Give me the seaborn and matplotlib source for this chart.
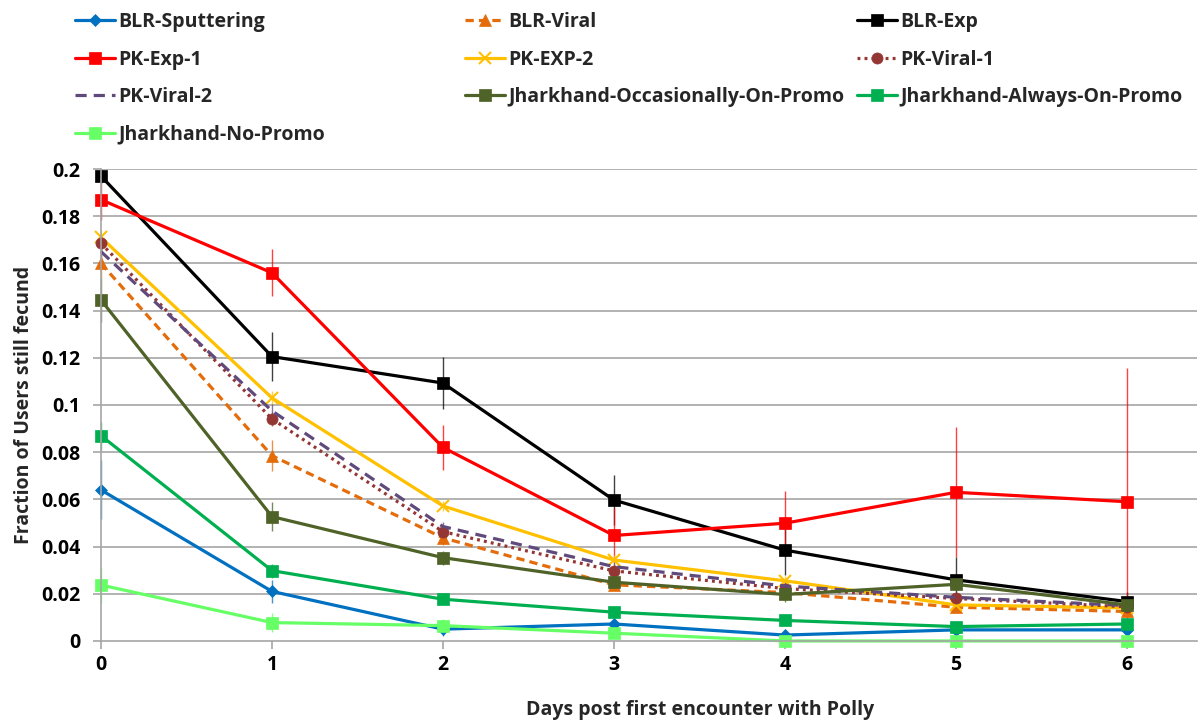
import matplotlib
matplotlib.use("Agg")
import matplotlib.pyplot as plt
import seaborn as sns
import numpy as np

# Days since each user's first encounter with Polly
days = [0, 1, 2, 3, 4, 5, 6]

series_names = [
    "BLR-Sputtering", "BLR-Viral", "BLR-Exp",
    "PK-Exp-1", "PK-EXP-2", "PK-Viral-1",
    "PK-Viral-2", "Jharkhand-Occasionally-On-Promo", "Jharkhand-Always-On-Promo",
    "Jharkhand-No-Promo",
]

# Fraction of users still fecund, per day
blr_sputtering = [0.064, 0.021, 0.005, 0.0072, 0.0025, 0.0047, 0.0047]
blr_viral = [0.160, 0.0785, 0.0437, 0.0238, 0.0205, 0.0143, 0.0125]
blr_exp = [0.197, 0.1205, 0.1093, 0.0597, 0.0385, 0.0259, 0.0167]
pk_exp_1 = [0.187, 0.156, 0.082, 0.0447, 0.0499, 0.063, 0.059]
pk_exp_2 = [0.171, 0.103, 0.0572, 0.0343, 0.0255, 0.0153, 0.0140]
pk_viral_1 = [0.1685, 0.0941, 0.0463, 0.0297, 0.0222, 0.0180, 0.0145]
pk_viral_2 = [0.165, 0.0975, 0.0485, 0.0315, 0.0233, 0.0185, 0.0150]
jh_occasional = [0.1445, 0.0527, 0.0353, 0.0249, 0.0197, 0.0240, 0.0153]
jh_always = [0.087, 0.0298, 0.0177, 0.0122, 0.0087, 0.0061, 0.0072]
jh_no_promo = [0.0237, 0.0078, 0.0065, 0.0033, 0.0, 0.0, 0.0]

# Standard-error half widths
err_blr_sputtering = [0.0125, 0.005, 0.003, 0.002, 0.002, 0.002, 0.002]
err_blr_viral = [0.006, 0.0065, 0.003, 0.002, 0.002, 0.002, 0.002]
err_blr_exp = [0.003, 0.0105, 0.011, 0.0105, 0.0105, 0.0096, 0.004]
err_pk_exp_1 = [0.0085, 0.010, 0.0095, 0.0115, 0.0138, 0.0275, 0.0565]
err_pk_exp_2 = [0.003, 0.003, 0.002, 0.002, 0.002, 0.002, 0.002]
err_pk_viral_1 = [0.003, 0.003, 0.002, 0.002, 0.002, 0.002, 0.002]
err_pk_viral_2 = [0.003, 0.003, 0.002, 0.002, 0.002, 0.002, 0.002]
err_jh_occasional = [0.0095, 0.006, 0.003, 0.003, 0.003, 0.003, 0.003]
err_jh_always = [0.006, 0.003, 0.002, 0.002, 0.002, 0.002, 0.002]
err_jh_no_promo = [0.0075, 0.004, 0.003, 0.002, 0.0, 0.0, 0.0]

y_ticks = [0, 0.02, 0.04, 0.06, 0.08, 0.1, 0.12, 0.14, 0.16, 0.18, 0.2]
y_tick_labels = ["0", "0.02", "0.04", "0.06", "0.08", "0.1", "0.12", "0.14", "0.16", "0.18", "0.2"]

values = [blr_sputtering, blr_viral, blr_exp, pk_exp_1, pk_exp_2, pk_viral_1,
          pk_viral_2, jh_occasional, jh_always, jh_no_promo]
errors = [err_blr_sputtering, err_blr_viral, err_blr_exp, err_pk_exp_1, err_pk_exp_2,
          err_pk_viral_1, err_pk_viral_2, err_jh_occasional, err_jh_always, err_jh_no_promo]

colors = ["#0070C0", "#E46C0A", "#000000", "#FF0000", "#FFC000", "#943634",
          "#604A7B", "#4F6228", "#00B050", "#66FF66"]
markers = ["D", "^", "s", "s", "x", "o", None, "s", "s", "s"]
marker_sizes = [6, 8, 9, 9, 9, 8, 0, 9, 9, 9]
dash_styles = [None, (2.6, 1.6), None, None, None, (0.9, 1.3), (3.5, 2.2), None, None, None]

sns.set_theme(style="white")
font_list = ["Open Sans", "DejaVu Sans"]
plt.rcParams["font.family"] = font_list
plt.rcParams["font.weight"] = "bold"
FS = 14

fig = plt.figure(figsize=(11.98, 7.21), dpi=100)
ax = fig.add_axes([0.0843, 0.111, 0.9992 - 0.0843, 0.7656 - 0.111])

grid_color = "#A6A6A6"
for y in y_ticks[1:]:
    ax.axhline(y, color=grid_color, lw=1.2, zorder=0)

handles = {}
for name, vals, errs, col, m, ms, dash in zip(series_names, values, errors, colors,
                                              markers, marker_sizes, dash_styles):
    ax.errorbar(days, vals, yerr=errs, fmt="none", ecolor=col, elinewidth=1.0,
                alpha=0.75, zorder=1.5, clip_on=False)
    n_before = len(ax.lines)
    sns.lineplot(x=days, y=vals, color=col, marker=m if m else None,
                 markersize=ms, lw=2.3, ax=ax, label=name, legend=False,
                 markeredgewidth=1.5 if m == "x" else 0.5, markeredgecolor=col,
                 zorder=2)
    line = ax.lines[n_before]
    if dash is not None:
        line.set_linestyle((0, dash))
    line.set_clip_on(False)
    handles[name] = line

ax.set_xlim(0, 6.41)
ax.set_ylim(0, 0.2)
ax.set_xticks(days)
ax.set_xticklabels([str(d) for d in days])
ax.set_yticks(y_ticks)
ax.set_yticklabels(y_tick_labels)

for side in ["top", "right"]:
    ax.spines[side].set_visible(False)
for side in ["left", "bottom"]:
    ax.spines[side].set_color(grid_color)
    ax.spines[side].set_linewidth(1.2)

ax.tick_params(axis="both", which="major", direction="out", length=6, width=1.2,
               color=grid_color, labelsize=FS, labelcolor="black")
ax.tick_params(axis="y", pad=9, left=True)
ax.tick_params(axis="x", pad=4, bottom=True)
for lab in ax.get_xticklabels() + ax.get_yticklabels():
    lab.set_fontweight("bold")

ax.set_xlabel("Days post first encounter with Polly", fontsize=FS, fontweight="bold")
ax.xaxis.set_label_coords(0.5465, -0.125, transform=ax.transAxes)
ax.set_ylabel("Fraction of Users still fecund", fontsize=FS, fontweight="bold", labelpad=5)

# Legend laid out as three fixed-width columns
columns = [
    ["BLR-Sputtering", "PK-Exp-1", "PK-Viral-2", "Jharkhand-No-Promo"],
    ["BLR-Viral", "PK-EXP-2", "Jharkhand-Occasionally-On-Promo"],
    ["BLR-Exp", "PK-Viral-1", "Jharkhand-Always-On-Promo"],
]
col_x = [75 / 1198, 465 / 1198, 857 / 1198]
for cx, names in zip(col_x, columns):
    fig.legend(
        [handles[n] for n in names], names,
        loc="upper left", bbox_to_anchor=(cx, 0.983), frameon=False,
        prop={"size": FS, "weight": "bold"},
        handlelength=2.06, handletextpad=0.15, labelspacing=0.9,
        borderpad=0, borderaxespad=0,
    )

fig.savefig("out.png", dpi=100)
